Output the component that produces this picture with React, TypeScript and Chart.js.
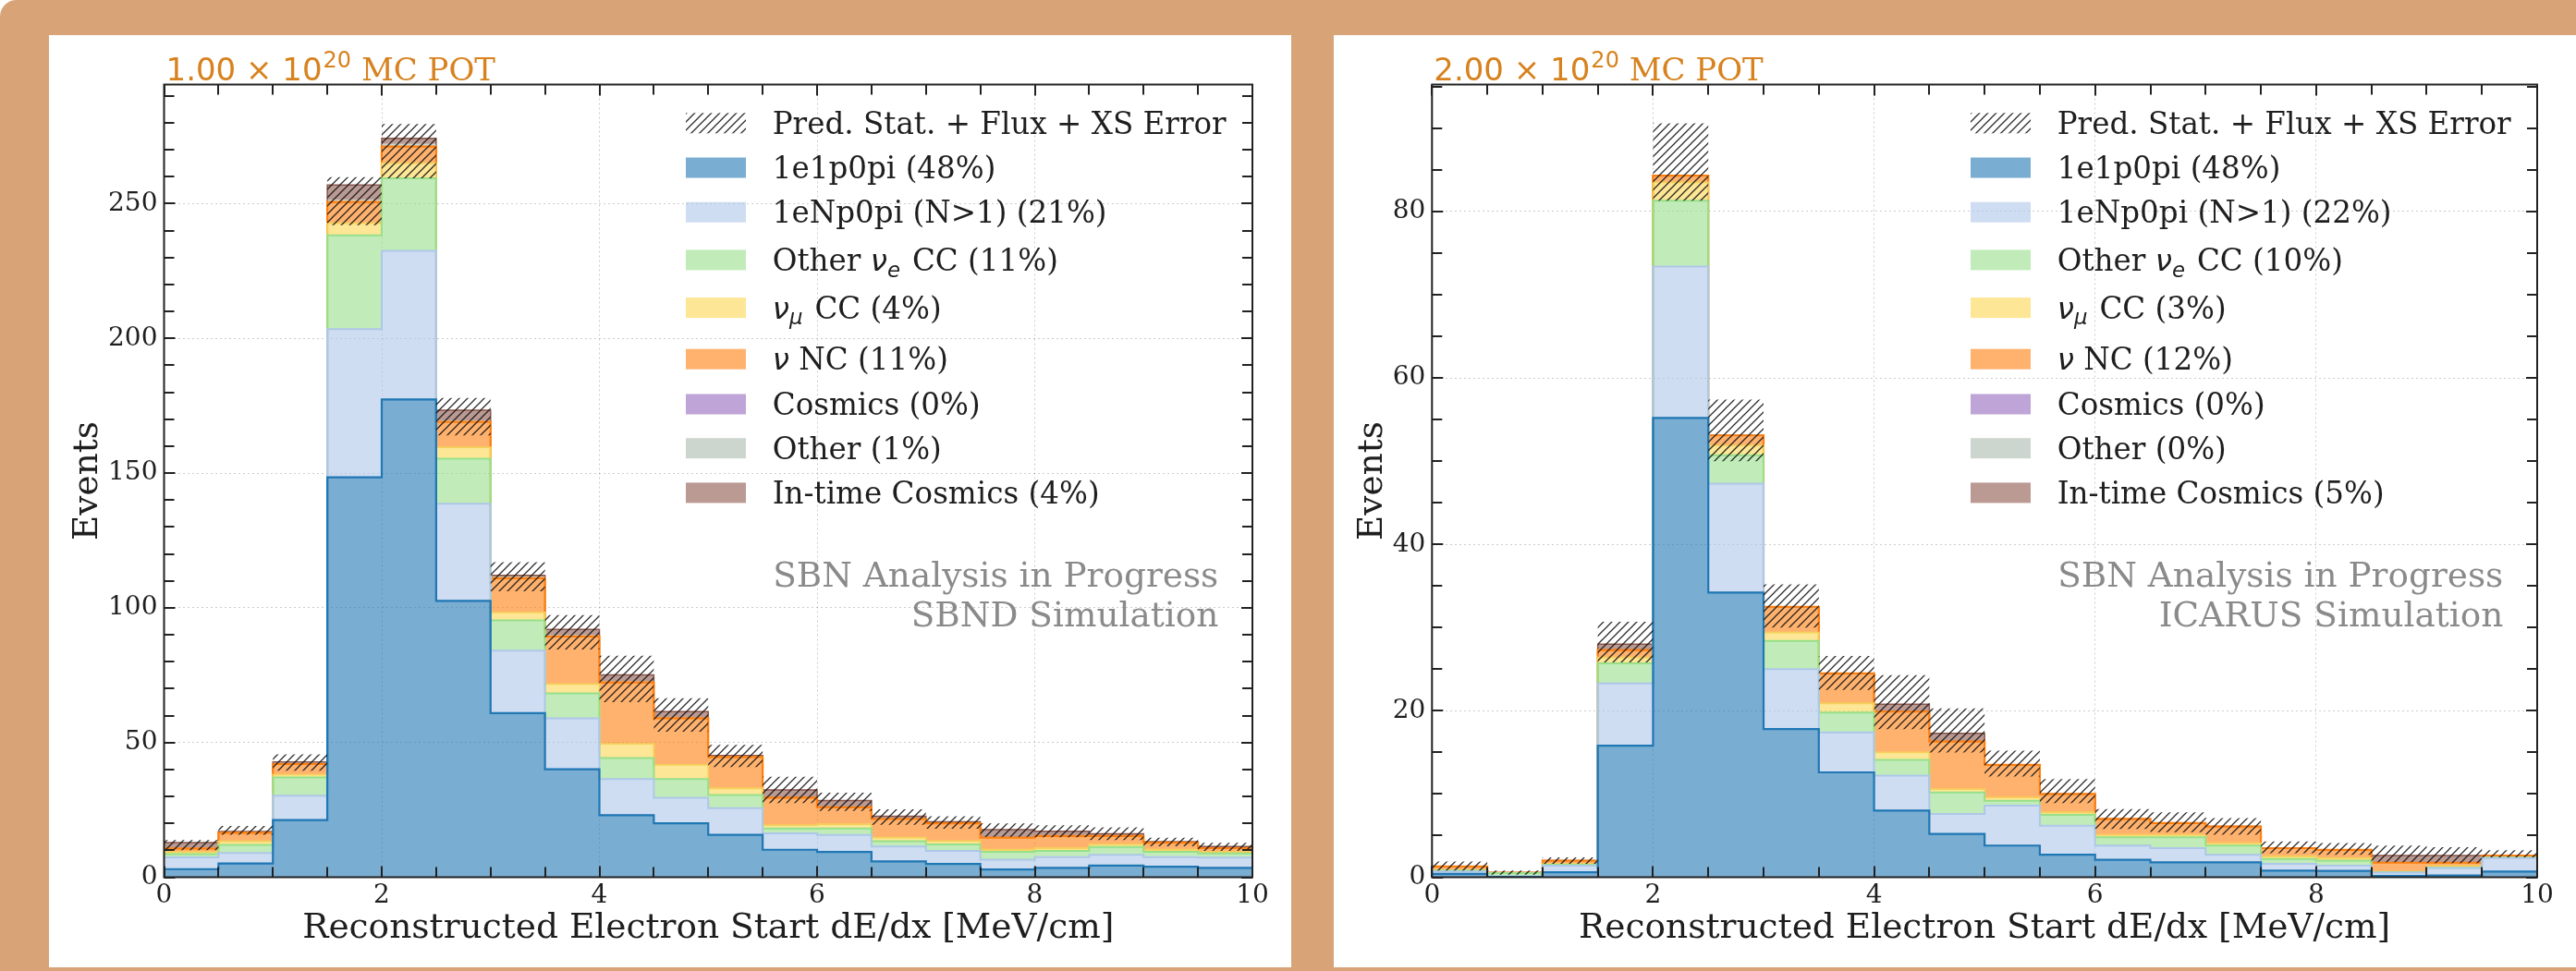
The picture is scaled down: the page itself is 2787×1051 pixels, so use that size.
import React, { useEffect, useRef } from "react";
import { Chart, registerables } from "chart.js";

Chart.register(...registerables);

// ------------------------------------------------------------------ data
const BIN_EDGES = [0, 0.5, 1, 1.5, 2, 2.5, 3, 3.5, 4, 4.5, 5, 5.5, 6, 6.5, 7, 7.5, 8, 8.5, 9, 9.5, 10];
const X_TICKS = [0, 2, 4, 6, 8, 10];
const SBND_Y_TICKS = [0, 50, 100, 150, 200, 250];
const ICARUS_Y_TICKS = [0, 20, 40, 60, 80];

const CATEGORY_LABELS = [
  "1e1p0pi",
  "1eNp0pi (N>1)",
  "Other $\\nu_e$ CC",
  "$\\nu_\\mu$ CC",
  "$\\nu$ NC",
  "Cosmics",
  "Other",
  "In-time Cosmics",
];
const ERROR_LABEL = "Pred. Stat. + Flux + XS Error";
const X_TITLE = "Reconstructed Electron Start dE/dx [MeV/cm]";
const Y_TITLE = "Events";
const WATERMARK_SBND = ["SBN Analysis in Progress", "SBND Simulation"];
const WATERMARK_ICARUS = ["SBN Analysis in Progress", "ICARUS Simulation"];
const SBND_POT = "1.00";
const ICARUS_POT = "2.00";
const POT_EXPONENT = "20";

const SBND_PERCENTS = [48, 21, 11, 4, 11, 0, 1, 4];
const ICARUS_PERCENTS = [48, 22, 10, 3, 12, 0, 0, 5];

// SBND per-category events per bin
const SBND_1E1P0PI = [3.0, 5.1, 21.2, 148.4, 177.3, 102.6, 60.9, 40.1, 23.0, 20.0, 15.7, 10.2, 9.4, 5.9, 4.9, 2.9, 3.5, 4.3, 3.9, 3.5];
const SBND_1ENP0PI = [4.4, 3.9, 9.1, 55.0, 55.2, 36.0, 23.2, 18.9, 13.4, 9.5, 9.9, 6.1, 6.3, 5.5, 4.9, 3.6, 4.0, 4.0, 3.6, 3.8];
const SBND_OTHER_NUE_CC = [1.2, 3.0, 6.7, 34.8, 26.9, 16.7, 11.2, 9.2, 7.8, 6.9, 4.9, 1.8, 2.4, 2.0, 2.4, 2.9, 2.3, 2.9, 1.9, 1.5];
const SBND_NUMU_CC = [0.8, 1.3, 1.1, 4.5, 5.6, 4.3, 3.0, 3.5, 5.3, 5.3, 2.5, 1.2, 1.6, 1.3, 1.2, 0.8, 1.0, 1.0, 0.8, 0.6];
const SBND_NU_NC = [1.3, 3.2, 3.9, 7.9, 6.2, 9.4, 12.7, 17.7, 22.8, 17.3, 11.6, 10.2, 6.2, 6.9, 6.6, 4.5, 4.5, 3.1, 2.6, 1.4];
const SBND_COSMICS = [0, 0, 0, 0, 0, 0, 0, 0, 0, 0, 0, 0, 0, 0, 0, 0, 0, 0, 0, 0];
const SBND_OTHER = [0.2, 0.2, 0.4, 0.8, 1.0, 0.6, 0.5, 0.4, 0.4, 0.3, 0.3, 0.2, 0.2, 0.2, 0.2, 0.1, 0.1, 0.1, 0.1, 0.1];
const SBND_INTIME_COSMICS = [2.0, 0.3, 0.4, 5.5, 2.0, 3.7, 0.5, 2.2, 2.4, 2.2, 0.3, 2.7, 2.4, 0.8, 0.4, 2.9, 1.7, 0.7, 0.3, 0.5];
const SBND_ERR_LOW = [10.0, 15.8, 39.5, 242.0, 259.4, 164.0, 106.1, 84.5, 65.0, 54.0, 40.9, 27.5, 24.6, 19.5, 18.0, 15.0, 14.8, 13.8, 11.5, 9.8];
const SBND_ERR_HIGH = [13.8, 19.0, 45.6, 259.8, 279.5, 177.9, 116.9, 97.3, 82.2, 66.4, 49.1, 37.3, 31.4, 25.2, 22.6, 20.0, 19.3, 18.5, 14.7, 12.8];

// ICARUS per-category events per bin
const ICARUS_1E1P0PI = [0.4, 0.05, 0.6, 15.8, 55.2, 34.2, 17.8, 12.6, 8.0, 5.2, 3.8, 2.7, 2.1, 1.8, 1.8, 0.8, 0.76, 0.15, 0.2, 0.67];
const ICARUS_1ENP0PI = [0.3, 0.05, 0.8, 7.5, 18.2, 13.1, 7.2, 4.8, 4.2, 2.4, 4.8, 3.5, 1.7, 1.7, 0.9, 0.8, 0.64, 0.4, 0.9, 1.63];
const ICARUS_OTHER_NUE_CC = [0.1, 0.4, 0.1, 2.4, 7.9, 3.4, 3.4, 2.4, 1.9, 2.6, 0.6, 1.3, 1.0, 1.3, 1.1, 0.6, 0.6, 0.05, 0.05, 0.05];
const ICARUS_NUMU_CC = [0.05, 0, 0.1, 0.7, 2.2, 1.2, 1.0, 1.1, 0.9, 0.4, 0.4, 0.3, 0.3, 0.3, 0.3, 0.3, 0.3, 0.05, 0.2, 0.05];
const ICARUS_NU_NC = [0.45, 0.05, 0.4, 0.9, 0.8, 1.2, 3.1, 3.6, 4.9, 5.7, 3.9, 2.2, 1.9, 1.4, 2.0, 1.0, 1.0, 1.1, 0.4, 0.2];
const ICARUS_COSMICS = [0, 0, 0, 0, 0, 0, 0, 0, 0, 0, 0, 0, 0, 0, 0, 0, 0, 0, 0, 0];
const ICARUS_OTHER = [0, 0, 0, 0, 0, 0, 0, 0, 0, 0, 0, 0, 0, 0, 0, 0, 0, 0, 0, 0];
const ICARUS_INTIME_COSMICS = [0, 0, 0, 0.7, 0, 0, 0, 0, 0.9, 1.0, 0, 0, 0, 0, 0, 0, 0, 0.85, 0.85, 0];
const ICARUS_ERR_LOW = [0.8, 0.3, 1.6, 25.8, 81.3, 50.0, 30.0, 22.5, 17.8, 15.0, 12.1, 8.9, 5.8, 5.4, 5.1, 2.9, 2.7, 1.8, 1.7, 2.4];
const ICARUS_ERR_HIGH = [1.9, 0.8, 2.4, 30.7, 90.6, 57.4, 35.2, 26.6, 24.3, 20.3, 15.2, 11.8, 8.2, 7.8, 7.1, 4.3, 4.1, 3.8, 3.6, 3.25];

// ------------------------------------------------------------------ styles
const LINE_COLORS = ["#1f77b4", "#aec7e8", "#98df8a", "#f5d05a", "#ff7f0e", "#9467bd", "#a9bbad", "#8c564b"];
const FILL_COLORS = [
  "rgba(31,119,180,0.6)",
  "rgba(174,199,232,0.6)",
  "rgba(152,223,138,0.6)",
  "rgba(251,214,78,0.6)",
  "rgba(255,127,14,0.6)",
  "rgba(148,103,189,0.6)",
  "rgba(170,187,175,0.6)",
  "rgba(140,86,75,0.6)",
];
const LINE_WIDTHS = [2.2, 2, 2, 1.8, 2.2, 0, 0, 1.5];
const TEXT_COLOR = "#1e1e1e";
const POT_COLOR = "#d7821e";
const BG_COLOR = "#d8a477";

type Seg = { text: string; math: boolean; sub?: boolean };

function parseLabel(s: string): Seg[] {
  const out: Seg[] = [];
  s.split("$").forEach((p, i) => {
    if (i % 2 === 0) {
      if (p) out.push({ text: p, math: false });
    } else {
      const t = p.replace(/\\nu/g, "ν").replace(/\\mu/g, "μ");
      const [base, sub] = t.split("_");
      out.push({ text: base, math: true });
      if (sub) out.push({ text: sub, math: true, sub: true });
    }
  });
  return out;
}

function drawRich(ctx: CanvasRenderingContext2D, segs: Seg[], x: number, y: number, size: number) {
  let cx = x;
  for (const seg of segs) {
    if (!seg.math) ctx.font = `${size}px "DejaVu Serif"`;
    else if (seg.sub) ctx.font = `italic ${size * 0.7}px "DejaVu Sans"`;
    else ctx.font = `italic ${size}px "DejaVu Sans"`;
    const dy = seg.sub ? size * 0.2 : 0;
    ctx.fillText(seg.text, cx, y + dy);
    cx += ctx.measureText(seg.text).width + (seg.sub ? size * 0.08 : 0);
  }
}

function stepPoints(values: number[]) {
  const pts = values.map((v, i) => ({ x: BIN_EDGES[i], y: v }));
  pts.push({ x: BIN_EDGES[BIN_EDGES.length - 1], y: values[values.length - 1] });
  return pts;
}

function makeHatch(ctx: CanvasRenderingContext2D) {
  const s = 9;
  const tile = document.createElement("canvas");
  tile.width = s;
  tile.height = s;
  const g = tile.getContext("2d")!;
  g.strokeStyle = "rgba(20,20,20,0.9)";
  g.lineWidth = 1.25;
  g.beginPath();
  g.moveTo(0, s);
  g.lineTo(s, 0);
  g.moveTo(-2, 2);
  g.lineTo(2, -2);
  g.moveTo(s - 2, s + 2);
  g.lineTo(s + 2, s - 2);
  g.stroke();
  return ctx.createPattern(tile, "repeat")!;
}

type PanelProps = {
  left: number;
  top: number;
  width: number;
  height: number;
  yAxisWidth: number;
  yMax: number;
  yTicks: number[];
  yMinorStep: number;
  comps: number[][];
  errLow: number[];
  errHigh: number[];
  percents: number[];
  pot: string;
  watermark: string[];
};

function HistPanel(p: PanelProps) {
  const ref = useRef<HTMLCanvasElement>(null);

  useEffect(() => {
    const canvas = ref.current!;
    const ctx2d = canvas.getContext("2d")!;
    const hatch = makeHatch(ctx2d);

    const datasets: any[] = [];
    let cum = p.comps[0].map(() => 0);
    p.comps.forEach((vals, k) => {
      cum = cum.map((c, i) => c + vals[i]);
      datasets.push({
        label: CATEGORY_LABELS[k],
        data: stepPoints(cum),
        stepped: "before",
        borderColor: LINE_COLORS[k],
        backgroundColor: FILL_COLORS[k],
        borderWidth: LINE_WIDTHS[k],
        pointRadius: 0,
        tension: 0,
        fill: k === 0 ? "origin" : "-1",
      });
    });
    datasets.push({
      label: "errLow",
      data: stepPoints(p.errLow),
      stepped: "before",
      borderWidth: 0,
      pointRadius: 0,
      fill: false,
      order: -1,
    });
    datasets.push({
      label: ERROR_LABEL,
      data: stepPoints(p.errHigh),
      stepped: "before",
      borderWidth: 0,
      pointRadius: 0,
      backgroundColor: hatch,
      fill: "-1",
      order: -1,
    });

    const decor = {
      id: "decor",
      afterDraw(chart: any) {
        const { ctx, chartArea: a, scales } = chart;
        const xs = scales.x;
        const ys = scales.y;
        ctx.save();
        // ticks (inward, all four sides)
        ctx.strokeStyle = "#222";
        ctx.lineWidth = 2;
        ctx.beginPath();
        for (let v = 0; v <= 10 + 1e-9; v += 0.5) {
          const px = Math.round(xs.getPixelForValue(v));
          const len = X_TICKS.includes(v) ? 12 : 11;
          ctx.moveTo(px, a.bottom);
          ctx.lineTo(px, a.bottom - len);
          ctx.moveTo(px, a.top);
          ctx.lineTo(px, a.top + len);
        }
        for (let v = 0; v <= p.yMax + 1e-9; v += p.yMinorStep) {
          const py = Math.round(ys.getPixelForValue(v));
          const len = p.yTicks.includes(v) ? 12 : 11;
          ctx.moveTo(a.left, py);
          ctx.lineTo(a.left + len, py);
          ctx.moveTo(a.right, py);
          ctx.lineTo(a.right - len, py);
        }
        ctx.stroke();
        // frame
        ctx.lineWidth = 2;
        ctx.strokeRect(a.left, a.top, a.right - a.left, a.bottom - a.top);

        // legend
        const rows = [41.8, 90, 138.2, 189.9, 241.6, 297.2, 346, 393.7, 441.9];
        const swX = a.right - 613;
        const swW = 65;
        const swH = 22;
        const txX = a.right - 519.3;
        const fs = 32.6;
        ctx.textBaseline = "alphabetic";
        ctx.textAlign = "left";
        rows.forEach((ry, r) => {
          const cy = a.top + ry;
          ctx.fillStyle = r === 0 ? hatch : FILL_COLORS[r - 1];
          ctx.fillRect(swX, cy - swH / 2, swW, swH);
          ctx.fillStyle = TEXT_COLOR;
          const label = r === 0 ? ERROR_LABEL : `${CATEGORY_LABELS[r - 1]} (${p.percents[r - 1]}%)`;
          drawRich(ctx, parseLabel(label), txX, cy + fs * 0.36, fs);
        });

        // watermark
        ctx.fillStyle = "#8a8a8a";
        ctx.font = `37.4px "DejaVu Serif"`;
        ctx.textAlign = "right";
        ctx.fillText(p.watermark[0], a.right - 36.7, a.top + 543.6);
        ctx.fillText(p.watermark[1], a.right - 36.7, a.top + 586.6);

        // POT title
        ctx.textAlign = "left";
        ctx.fillStyle = POT_COLOR;
        let tx = a.left + 2;
        const by = a.top - 5;
        ctx.font = `34px "DejaVu Sans"`;
        const t1 = `${p.pot} × 10`;
        ctx.fillText(t1, tx, by);
        tx += ctx.measureText(t1).width + 1;
        ctx.font = `24px "DejaVu Sans"`;
        ctx.fillText(POT_EXPONENT, tx, by - 14);
        tx += ctx.measureText(POT_EXPONENT).width;
        ctx.font = `34px "DejaVu Serif"`;
        ctx.fillText(" MC POT", tx, by);
        ctx.restore();
      },
    };

    const tickFont = { family: "DejaVu Serif", size: 28 };
    const titleFont = { family: "DejaVu Serif", size: 37.5 };

    const chart = new Chart(canvas, {
      type: "line",
      data: { datasets },
      plugins: [decor],
      options: {
        animation: false,
        responsive: false,
        maintainAspectRatio: false,
        devicePixelRatio: 1,
        events: [],
        layout: { padding: { left: 0, top: 53.5, right: 42, bottom: 0 } },
        plugins: {
          legend: { display: false },
          tooltip: { enabled: false },
          title: { display: false },
        },
        scales: {
          x: {
            type: "linear",
            min: 0,
            max: 10,
            afterBuildTicks: (s: any) => {
              s.ticks = X_TICKS.map((v) => ({ value: v }));
            },
            afterFit: (s: any) => {
              s.height = p.height - 911.5;
            },
            ticks: {
              font: tickFont,
              color: TEXT_COLOR,
              padding: 3,
              maxRotation: 0,
              autoSkip: false,
              callback: (v: any) => String(v),
            },
            grid: { color: "rgba(0,0,0,0.2)", lineWidth: 1, drawTicks: false },
            border: { display: false, dash: [2, 3] },
            title: {
              display: true,
              text: X_TITLE,
              font: titleFont,
              color: TEXT_COLOR,
              padding: { top: 0, bottom: 19 },
            },
          },
          y: {
            type: "linear",
            min: 0,
            max: p.yMax,
            afterBuildTicks: (s: any) => {
              s.ticks = p.yTicks.map((v) => ({ value: v }));
            },
            afterFit: (s: any) => {
              s.width = p.yAxisWidth;
            },
            ticks: {
              font: tickFont,
              color: TEXT_COLOR,
              padding: 7,
              autoSkip: false,
              callback: (v: any) => String(v),
            },
            grid: { color: "rgba(0,0,0,0.2)", lineWidth: 1, drawTicks: false },
            border: { display: false, dash: [2, 3] },
            title: {
              display: true,
              text: Y_TITLE,
              font: titleFont,
              color: TEXT_COLOR,
              padding: { top: 20, bottom: 0 },
            },
          },
        },
      } as any,
    });
    return () => chart.destroy();
  }, []);

  return (
    <div style={{ position: "absolute", left: p.left, top: p.top, width: p.width, height: p.height, background: "#ffffff" }}>
      <canvas ref={ref} width={p.width} height={p.height} style={{ display: "block", width: p.width, height: p.height }} />
    </div>
  );
}

export default function App() {
  return (
    <div
      style={{
        position: "absolute",
        left: 0,
        top: 0,
        width: 2787,
        height: 1051,
        background: BG_COLOR,
        borderTopLeftRadius: 18,
        overflow: "hidden",
      }}
    >
      <HistPanel
        left={53}
        top={38}
        width={1344}
        height={1009}
        yAxisWidth={124.5}
        yMax={294.2}
        yTicks={SBND_Y_TICKS}
        yMinorStep={10}
        comps={[SBND_1E1P0PI, SBND_1ENP0PI, SBND_OTHER_NUE_CC, SBND_NUMU_CC, SBND_NU_NC, SBND_COSMICS, SBND_OTHER, SBND_INTIME_COSMICS]}
        errLow={SBND_ERR_LOW}
        errHigh={SBND_ERR_HIGH}
        percents={SBND_PERCENTS}
        pot={SBND_POT}
        watermark={WATERMARK_SBND}
      />
      <HistPanel
        left={1443}
        top={38}
        width={1344}
        height={1009}
        yAxisWidth={106.3}
        yMax={95.26}
        yTicks={ICARUS_Y_TICKS}
        yMinorStep={5}
        comps={[ICARUS_1E1P0PI, ICARUS_1ENP0PI, ICARUS_OTHER_NUE_CC, ICARUS_NUMU_CC, ICARUS_NU_NC, ICARUS_COSMICS, ICARUS_OTHER, ICARUS_INTIME_COSMICS]}
        errLow={ICARUS_ERR_LOW}
        errHigh={ICARUS_ERR_HIGH}
        percents={ICARUS_PERCENTS}
        pot={ICARUS_POT}
        watermark={WATERMARK_ICARUS}
      />
    </div>
  );
}
